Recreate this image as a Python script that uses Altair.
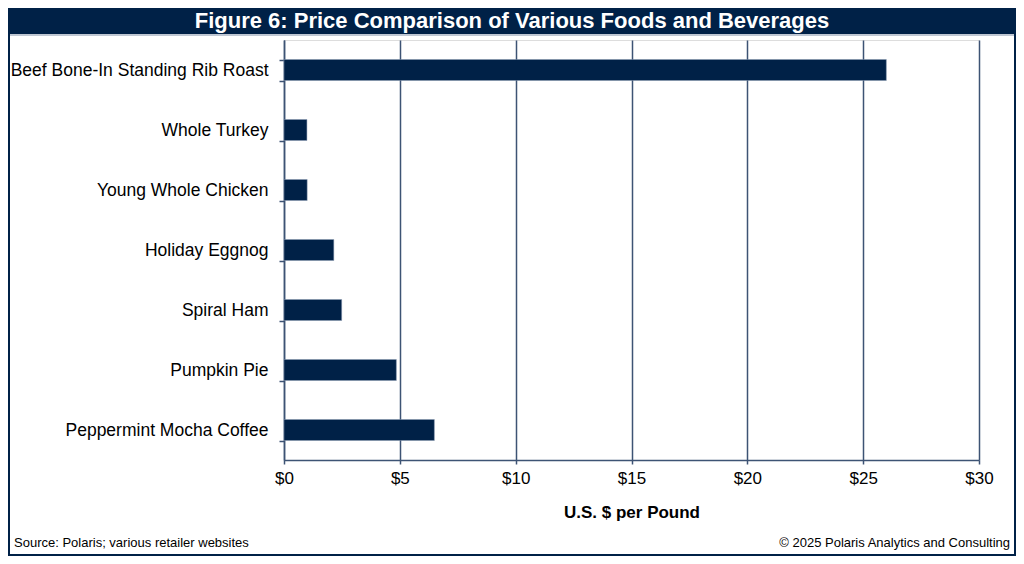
import altair as alt
import pandas as pd

categories = [
    "Beef Bone-In Standing Rib Roast",
    "Whole Turkey",
    "Young Whole Chicken",
    "Holiday Eggnog",
    "Spiral Ham",
    "Pumpkin Pie",
    "Peppermint Mocha Coffee",
]
prices = [26.0, 0.99, 1.0, 2.15, 2.49, 4.85, 6.49]

title_text = "Figure 6: Price Comparison of Various Foods and Beverages"
source_text = "Source: Polaris; various retailer websites"
copyright_text = "\u00a9 2025 Polaris Analytics and Consulting"
x_title = "U.S. $ per Pound"

NAVY = "#002147"
AXIS = "#3d5374"
FONT = "Liberation Sans"

df = pd.DataFrame({"item": categories, "price": prices})
one = pd.DataFrame({"t": [0]})

W, H = 695, 420
PL, PT = 276, 32
TOTW, TOTH = 1008, 548

bars = alt.Chart(df).mark_bar(color=NAVY, stroke="#8a9ab3", strokeWidth=0.5).encode(
    y=alt.Y(
        "item:N",
        sort=categories,
        title=None,
        scale=alt.Scale(paddingInner=0.65, paddingOuter=0.325),
        axis=alt.Axis(
            tickBand="extent",
            tickSize=5,
            tickColor=AXIS,
            tickWidth=1.5,
            domainColor=AXIS,
            domainWidth=1.5,
            labelPadding=11,
            labelFontSize=17.5,
            labelColor="#000000",
            labelFont=FONT,
            grid=False,
            labelLimit=400,
        ),
    ),
    x=alt.X(
        "price:Q",
        title=x_title,
        scale=alt.Scale(domain=[0, 30], nice=False),
        axis=alt.Axis(
            values=[0, 5, 10, 15, 20, 25, 30],
            format="$d",
            grid=True,
            gridColor=AXIS,
            gridWidth=1.5,
            domainColor=AXIS,
            domainWidth=1.5,
            tickColor=AXIS,
            tickWidth=1.5,
            tickSize=4,
            labelPadding=6,
            labelFlush=False,
            labelFontSize=17,
            labelColor="#000000",
            labelFont=FONT,
            titleFontSize=17,
            titleFont=FONT,
            titleFontWeight="bold",
            titleColor="#000000",
            titlePadding=18,
        ),
    ),
)

banner = alt.Chart(one).mark_rect(color=NAVY).encode(
    x=alt.value(-PL), x2=alt.value(TOTW - PL), y=alt.value(-PT), y2=alt.value(-6)
)
banner_line = alt.Chart(one).mark_rule(color="#aab4c4", strokeWidth=1.5).encode(
    x=alt.value(-PL), x2=alt.value(TOTW - PL), y=alt.value(-5)
)
title = alt.Chart(pd.DataFrame({"t": [title_text]})).mark_text(
    color="white", fontSize=22, fontWeight="bold", font=FONT, align="center", baseline="middle"
).encode(text="t:N", x=alt.value(TOTW / 2 - PL), y=alt.value(-19))

frame = alt.Chart(one).mark_rect(fill=None, stroke=NAVY, strokeWidth=2).encode(
    x=alt.value(-PL + 1), x2=alt.value(TOTW - PL - 1), y=alt.value(-PT + 1), y2=alt.value(TOTH - PT - 1)
)
src = alt.Chart(pd.DataFrame({"t": [source_text]})).mark_text(
    color="#000000", fontSize=13, font=FONT, align="left", baseline="middle"
).encode(text="t:N", x=alt.value(6 - PL), y=alt.value(503))
cpy = alt.Chart(pd.DataFrame({"t": [copyright_text]})).mark_text(
    color="#000000", fontSize=13, font=FONT, align="right", baseline="middle"
).encode(text="t:N", x=alt.value(1002 - PL), y=alt.value(503))

chart = alt.layer(bars, banner, banner_line, title, src, cpy, frame).properties(
    width=W,
    height=H,
    autosize=alt.AutoSizeParams(type="none"),
    padding={"left": PL, "top": PT, "right": TOTW - PL - W, "bottom": TOTH - PT - H},
    background="white",
).configure_view(stroke=None).configure(font=FONT)

chart.save("out.html", embed_options={"renderer": "svg", "actions": False})
